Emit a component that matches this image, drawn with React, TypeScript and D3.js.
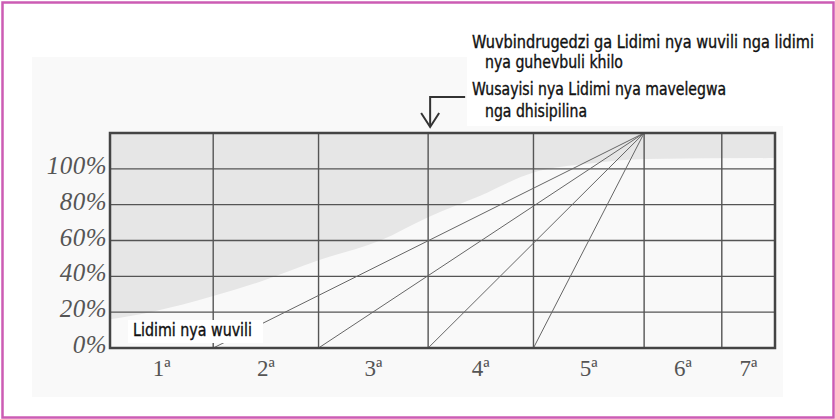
import React from 'react';
import * as d3 from 'd3';

// school years (columns) and where their borders sit, in "year" units
const grades = ['1ª', '2ª', '3ª', '4ª', '5ª', '6ª', '7ª'];
const columnEdges = [0, 0.97, 1.96, 2.99, 3.98, 5.02, 5.75, 6.25];

// percentage axis
const percentTicks = [0, 20, 40, 60, 80, 100];
const percentTop = 120;

// shaded share of the first language
const shadeYear = [0, 0.38, 0.97, 1.41, 1.96, 2.54, 2.99, 3.48, 3.98, 4.51, 5.03, 6.25];
const shadePct = [16, 20, 29, 37, 49, 60, 73, 85, 98, 103, 105.5, 106];

// transition lines: all leave 0% at a column border and meet at the top
const fanStarts = [0.97, 1.96, 2.99, 3.98];
const fanApexYear = 5.02;

const arrowYear = 2.99;

const notes = [
  { text: 'Wuvbindrugedzi ga Lidimi nya wuvili nga lidimi', indent: 0, width: 342 },
  { text: 'nya guhevbuli khilo', indent: 13, width: 138 },
  { text: 'Wusayisi nya Lidimi nya mavelegwa', indent: 0, width: 254 },
  { text: 'nga dhisipilina', indent: 13, width: 102 },
];
const noteBaselines = [48, 68, 95, 117];
const bottomLabel = 'Lidimi nya wuvili';

const W = 835;
const H = 419;
const plot = { left: 110, right: 775, top: 133, bottom: 348 };
const condensed = "'Liberation Sans Narrow', 'DejaVu Sans Condensed', 'Roboto Condensed', sans-serif";
const serif = "'Liberation Serif', 'DejaVu Serif', serif";

const App = () => {
  const x = d3.scaleLinear().domain([0, columnEdges[columnEdges.length - 1]]).range([plot.left, plot.right]);
  const y = d3.scaleLinear().domain([0, percentTop]).range([plot.bottom, plot.top]);

  const shade = d3
    .area<number>()
    .x((_, i) => x(shadeYear[i]))
    .y0(y(percentTop))
    .y1((d) => y(d))
    .curve(d3.curveMonotoneX);

  const ax = x(arrowYear);

  return (
    <svg width={W} height={H} style={{ position: 'absolute', left: 0, top: 0, background: '#fff' }}>
      <rect x={2.5} y={2.5} width={W - 4} height={H - 4} fill="#fff" stroke="#cc5cb4" strokeWidth={2.5} />
      {/* scanned page */}
      <rect x={32} y={57} width={751} height={340} fill="#f9f9f9" />

      {/* shaded area */}
      <path d={shade(shadePct) ?? ''} fill="#e6e6e6" />

      {/* horizontal grid */}
      {percentTicks.map((t) => (
        <line key={t} x1={plot.left} x2={plot.right} y1={y(t)} y2={y(t)} stroke="#555" strokeWidth={1.4} />
      ))}
      {/* vertical grid */}
      {columnEdges.slice(1, -1).map((e) => (
        <line key={e} x1={x(e)} x2={x(e)} y1={y(0)} y2={y(percentTop)} stroke="#555" strokeWidth={1.4} />
      ))}

      {/* fan lines */}
      {fanStarts.map((s) => (
        <line key={s} x1={x(s)} y1={y(0)} x2={x(fanApexYear)} y2={y(percentTop)} stroke="#666" strokeWidth={1} />
      ))}

      {/* frame */}
      <rect
        x={plot.left}
        y={plot.top}
        width={plot.right - plot.left}
        height={plot.bottom - plot.top}
        fill="none"
        stroke="#444"
        strokeWidth={2.5}
      />

      {/* y labels */}
      {percentTicks.map((t) => (
        <text
          key={t}
          x={107}
          y={y(t) + 5}
          textAnchor="end"
          fontFamily={serif}
          fontStyle="italic"
          fontSize={25}
          letterSpacing={0.5}
          fill="#555"
        >
          {t}%
        </text>
      ))}

      {/* x labels */}
      {grades.map((g, i) => (
        <text
          key={g}
          x={(x(columnEdges[i]) + x(columnEdges[i + 1])) / 2}
          y={376}
          textAnchor="middle"
          fontFamily={serif}
          fontSize={23}
          fill="#555"
        >
          {g}
        </text>
      ))}

      {/* arrow */}
      <path d={`M${ax + 37},97 H${ax + 2} V126`} fill="none" stroke="#333" strokeWidth={2} />
      <path d={`M${ax - 7},113 L${ax + 2},127 L${ax + 11},113`} fill="none" stroke="#333" strokeWidth={2} />

      {/* annotation */}
      <rect x={467} y={26} width={356} height={100} fill="#fff" />
      {notes.map((n, i) => (
        <text
          key={n.text}
          x={472 + n.indent}
          y={noteBaselines[i]}
          fontFamily={condensed}
          fontSize={17}
          fill="#111"
          stroke="#111"
          strokeWidth={0.35}
          textLength={n.width}
          lengthAdjust="spacingAndGlyphs"
        >
          {n.text}
        </text>
      ))}

      <rect x={128} y={320} width={135} height={23} fill="#fff" />
      <text
        x={133}
        y={336}
        fontFamily={condensed}
        fontSize={17}
        fill="#111"
        stroke="#111"
        strokeWidth={0.35}
        textLength={119}
        lengthAdjust="spacingAndGlyphs"
      >
        {bottomLabel}
      </text>
    </svg>
  );
};

export default App;
